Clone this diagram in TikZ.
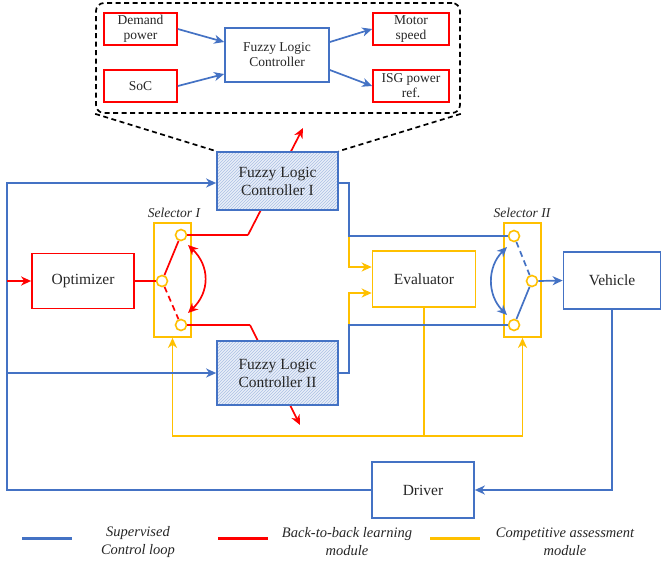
\documentclass[tikz,border=0pt]{standalone}
\usepackage{fontspec}
\setmainfont{Liberation Serif}
\usetikzlibrary{arrows.meta,patterns,calc}
\definecolor{cblue}{HTML}{4472C4}
\definecolor{cred}{HTML}{FF0000}
\definecolor{cyel}{HTML}{FFC000}
\definecolor{ctext}{HTML}{262626}
\begin{document}
\begin{tikzpicture}[x=1pt,y=-1pt,
  box/.style={draw, line width=1.7pt, align=center, text=ctext, inner sep=0pt},
  bluebox/.style={box, draw=cblue},
  redbox/.style={box, draw=cred},
  yelbox/.style={box, draw=cyel},
  mainf/.style={font=\fontsize{15.5}{18}\selectfont},
  innerf/.style={font=\fontsize{13.5}{15}\selectfont},
  flc/.style={bluebox, mainf, preaction={fill=cblue!12}, pattern=north east lines, pattern color=cblue!45},
  zbox/.style={draw=black, line width=1.7pt, dash pattern=on 5pt off 3.5pt, rounded corners=8pt},
  zline/.style={draw=black, line width=1.7pt, dash pattern=on 5pt off 3.5pt},
  swdash/.style={dash pattern=on 6pt off 4pt},
  sw/.style={circle, draw=cyel, fill=white, line width=1.6pt, minimum size=11pt, inner sep=0pt},
  bline/.style={draw=cblue, line width=1.7pt},
  rline/.style={draw=cred, line width=1.7pt},
  yline/.style={draw=cyel, line width=1.7pt},
  arr/.style={-{Stealth[length=10pt,width=9pt,inset=3pt]}},
  darr/.style={{Stealth[length=10pt,width=9pt,inset=3pt]}-{Stealth[length=10pt,width=9pt,inset=3pt]}},
  sellab/.style={font=\itshape\fontsize{13.5}{15}\selectfont, text=ctext},
  legtext/.style={font=\itshape\fontsize{14.5}{18}\selectfont, text=ctext, align=center},
  legline/.style={line width=3pt}
]
\useasboundingbox (0,0) rectangle (661,563);

% zoomed detail
\node[zbox, minimum width=364pt, minimum height=110pt] (zb) at (278,58) {};
\node[redbox, innerf, minimum width=73pt, minimum height=32pt] (dp) at (140.5,29) {Demand\\power};
\node[redbox, innerf, minimum width=73pt, minimum height=32pt] (soc) at (140.5,86) {SoC};
\node[bluebox, innerf, minimum width=104pt, minimum height=54pt] (flcin) at (277,55) {Fuzzy Logic\\Controller};
\node[redbox, innerf, minimum width=76pt, minimum height=32pt] (ms) at (411,29) {Motor\\speed};
\node[redbox, innerf, minimum width=76pt, minimum height=32pt] (isg) at (411,86) {ISG power\\ref.};
\draw[bline,arr] (dp.east) -- ([yshift=13pt]flcin.west);
\draw[bline,arr] (soc.east) -- ([yshift=-19pt]flcin.west);
\draw[bline,arr] ([yshift=13pt]flcin.east) -- (ms.west);
\draw[bline,arr] ([yshift=-15pt]flcin.east) -- (isg.west);

% selectors
\node[yelbox, minimum width=37pt, minimum height=114pt] (sel1) at (172.5,280) {};
\node[yelbox, minimum width=37pt, minimum height=114pt] (sel2) at (522.5,280) {};
\node[sellab] (sl1) at (174,213) {Selector I};
\node[sellab] (sl2) at (522,213) {Selector II};

% main blocks
\node[redbox, mainf, minimum width=102pt, minimum height=55pt] (opt) at (83,281) {Optimizer};
\node[yelbox, mainf, minimum width=103pt, minimum height=56pt] (ev) at (424,279) {Evaluator};
\node[bluebox, mainf, minimum width=97pt, minimum height=57pt] (veh) at (612,280.5) {Vehicle};
\node[bluebox, mainf, minimum width=102pt, minimum height=56pt] (drv) at (423,490) {Driver};

% coordinates
\coordinate (rin) at (7,281);
\coordinate (r1k) at (248,235);
\coordinate (r1e) at (303,128);
\coordinate (r2k) at (250,325);
\coordinate (r2e) at (300,425);
\coordinate (c1a) at (188,245);
\coordinate (c1b) at (188,313);
\coordinate (c1p) at (210,266);
\coordinate (c1q) at (210,292);
\coordinate (c2a) at (507,247);
\coordinate (c2b) at (507,315);
\coordinate (c2p) at (487,267);
\coordinate (c2q) at (487,295);
\coordinate (lb) at (7,490);
\coordinate (lt) at (7,183);
\coordinate (lm) at (7,373);
\coordinate (j1a) at (349,183);
\coordinate (j1b) at (349,236);
\coordinate (j2a) at (349,373);
\coordinate (j2b) at (349,325);
\coordinate (y1) at (349,267);
\coordinate (y2) at (349,293);
\coordinate (yl) at (172.5,436);
\coordinate (yr) at (522.5,436);

% red (behind FLC boxes)
\draw[rline,arr] (r1k) -- (r1e);
\draw[rline,arr] (r2k) -- (r2e);

% FLC blocks
\node[flc, minimum width=121pt, minimum height=58pt] (flc1) at (277.5,181) {Fuzzy Logic\\Controller I};
\node[flc, minimum width=121pt, minimum height=64pt] (flc2) at (277.5,373) {Fuzzy Logic\\Controller II};

% zoom connectors
\draw[zline] (zb.south west) -- (flc1.north west);
\draw[zline] (zb.south east) -- (flc1.north east);

% yellow
\draw[yline,arr] (j1b) -- (y1) -- (ev.west |- y1);
\draw[yline,arr] (j2b) -- (y2) -- (ev.west |- y2);
\draw[yline] (ev.south) -- (ev.south |- yl);
\draw[yline,arr] (ev.south |- yl) -- (yl) -- (sel1.south);
\draw[yline,arr] (ev.south |- yl) -- (yr) -- (sel2.south);

% blue
\draw[bline,arr] (drv.west) -- (lb) -- (lt) -- (flc1.west |- lt);
\draw[bline,arr] (lm) -- (flc2.west);
\draw[bline,arr] (veh.south) -- (veh.south |- drv.east) -- (drv.east);
\draw[bline] (flc1.east |- lt) -- (j1a) -- (j1b) -- (sel2.west |- j1b);
\draw[bline] (flc2.east) -- (j2a) -- (j2b) -- (sel2.west |- j2b);

% switches
\node[sw] (s1t) at (181,235) {};
\node[sw] (s1m) at (162,281) {};
\node[sw] (s1b) at (181,325) {};
\node[sw] (s2t) at (514,236) {};
\node[sw] (s2m) at (532,281) {};
\node[sw] (s2b) at (514,325) {};

\draw[bline] (sel2.west |- j1b) -- (s2t.west);
\draw[bline] (sel2.west |- j2b) -- (s2b.west);
\draw[bline,swdash] (s2t) -- (s2m);
\draw[bline] (s2m) -- (s2b);
\draw[bline,arr] (s2m.east) -- (veh.west);
\draw[bline,darr] (c2a) .. controls (c2p) and (c2q) .. (c2b);

\draw[rline,arr] (rin) -- (opt.west);
\draw[rline] (opt.east) -- (s1m.west);
\draw[rline] (s1m) -- (s1t);
\draw[rline,swdash] (s1m) -- (s1b);
\draw[rline] (s1t.east) -- (r1k);
\draw[rline] (s1b.east) -- (r2k);
\draw[rline,darr] (c1a) .. controls (c1p) and (c1q) .. (c1b);

% legend
\coordinate (l1a) at (22,538); \coordinate (l1b) at (72,538);
\coordinate (l2a) at (218,538); \coordinate (l2b) at (268,538);
\coordinate (l3a) at (430,538); \coordinate (l3b) at (480,538);
\draw[legline, cblue] (l1a) -- (l1b);
\draw[legline, cred] (l2a) -- (l2b);
\draw[legline, cyel] (l3a) -- (l3b);
\node[legtext] (lg1) at (138,542) {Supervised\\Control loop};
\node[legtext] (lg2) at (347,542) {Back-to-back learning\\module};
\node[legtext] (lg3) at (565,542) {Competitive assessment\\module};
\end{tikzpicture}
\end{document}
